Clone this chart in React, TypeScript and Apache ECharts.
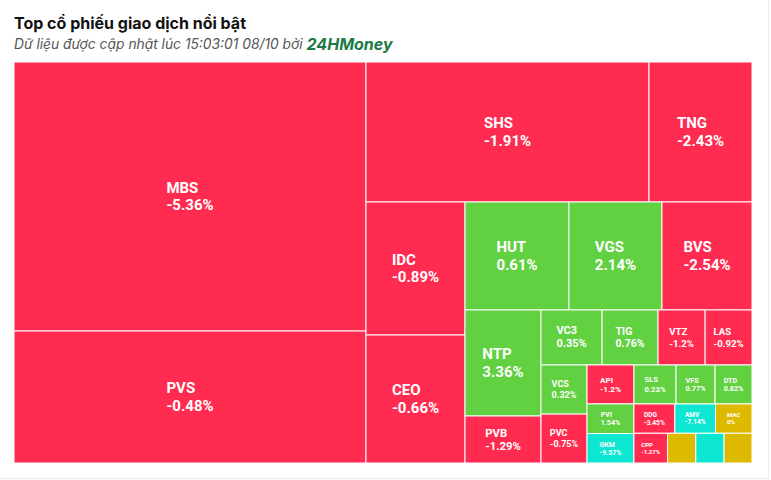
import React, { useEffect, useRef } from 'react';
import * as echarts from 'echarts';

// ---- data ----
const tickers = [
  'MBS', 'PVS', 'SHS', 'TNG', 'IDC', 'CEO', 'HUT', 'VGS', 'BVS', 'NTP',
  'PVB', 'VC3', 'TIG', 'VTZ', 'LAS', 'VCS', 'PVC', 'API', 'SLS', 'VFS',
  'DTD', 'PVI', 'GKM', 'DDG', 'AMV', 'MAC', 'CPP', '', '', '',
];
// relative traded value (cell area)
const tradeValues = [
  94700, 46460, 39620, 14420, 13170, 12670, 11230, 10040, 9720, 8060,
  3570, 3360, 3080, 2590, 2580, 2260, 2250, 1830, 1640, 1520,
  1440, 1390, 1380, 1200, 1190, 1070, 1000, 840, 840, 830,
];
const pctChanges: (number | null)[] = [
  -5.36, -0.48, -1.91, -2.43, -0.89, -0.66, 0.61, 2.14, -2.54, 3.36,
  -1.29, 0.35, 0.76, -1.2, -0.92, 0.32, -0.75, -1.2, 0.23, 0.77,
  0.82, 1.54, -9.57, -3.45, -7.14, 0, -1.27, 0, null, 0,
];
const atFloor = [
  false, false, false, false, false, false, false, false, false, false,
  false, false, false, false, false, false, false, false, false, false,
  false, false, true, false, true, false, false, false, true, false,
];

const TITLE = 'Top cổ phiếu giao dịch nổi bật';
const SUBTITLE = 'Dữ liệu được cập nhật lúc 15:03:01 08/10 bởi ';
const BRAND = '24HMoney';

const COLORS = { up: '#61d142', down: '#ff2b50', ref: '#ddb900', floor: '#0de7d1' };

function cellColor(i: number) {
  if (atFloor[i]) return COLORS.floor;
  const c = pctChanges[i] as number;
  if (c > 0) return COLORS.up;
  if (c === 0) return COLORS.ref;
  return COLORS.down;
}

type R = { x: number; y: number; w: number; h: number };

// alternating-direction squarified layout
function squarify(vals: number[], W: number, H: number): R[] {
  const total = vals.reduce((a, b) => a + b, 0);
  const areas = vals.map((v) => (v / total) * W * H);
  const out: R[] = [];
  let rx = 0, ry = 0, rw = W, rh = H, dir = 0;
  let strip: number[] = [];
  const ar = (a: number, b: number) => Math.max(a / b, b / a);
  const sum = (a: number[]) => a.reduce((p, q) => p + q, 0);
  const flush = () => {
    const s = sum(strip);
    if (dir === 0) {
      const t = s / rh;
      let cy = ry;
      strip.forEach((a) => {
        out.push({ x: rx, y: cy, w: t, h: a / t });
        cy += a / t;
      });
      rx += t;
      rw -= t;
    } else {
      const t = s / rw;
      let cx = rx;
      strip.forEach((a) => {
        out.push({ x: cx, y: ry, w: a / t, h: t });
        cx += a / t;
      });
      ry += t;
      rh -= t;
    }
    dir = 1 - dir;
    strip = [];
  };
  areas.forEach((a) => {
    if (strip.length) {
      const len = dir === 0 ? rh : rw;
      const s0 = sum(strip);
      const prev = strip[strip.length - 1];
      const t0 = s0 / len;
      const t1 = (s0 + a) / len;
      if (ar(t1, prev / t1) > ar(t0, prev / t0)) flush();
    }
    strip.push(a);
  });
  if (strip.length) flush();
  return out;
}

let measureCtx: CanvasRenderingContext2D | null = null;
function textWidth(s: string, font: string) {
  if (!measureCtx) measureCtx = document.createElement('canvas').getContext('2d');
  if (!measureCtx) return s.length * 8;
  measureCtx.font = font;
  return measureCtx.measureText(s).width;
}

export default function App() {
  const ref = useRef<HTMLDivElement>(null);
  useEffect(() => {
    if (!ref.current) return;
    const chart = echarts.init(ref.current, undefined, { renderer: 'svg' });
    let cache: { W: number; H: number; rects: R[] } | null = null;

    const option: any = {
      animation: false,
      backgroundColor: '#ffffff',
      grid: { left: 14, top: 62, width: 738, height: 401 },
      xAxis: { type: 'value', min: 0, max: 1, show: false },
      yAxis: { type: 'value', min: 0, max: 1, inverse: true, show: false },
      graphic: [
        {
          type: 'text',
          x: 14,
          y: 23,
          style: {
            text: TITLE,
            fontFamily: 'Inter',
            fontWeight: 'bold',
            fontSize: 16,
            fill: '#111111',
            verticalAlign: 'middle',
          },
        },
        {
          type: 'text',
          x: 14,
          y: 44,
          style: {
            text: `{a|${SUBTITLE}}{b|${BRAND}}`,
            verticalAlign: 'middle',
            rich: {
              a: { fontFamily: 'Inter', fontStyle: 'italic', fontSize: 13.8, fill: '#555555' },
              b: { fontFamily: 'Inter', fontStyle: 'italic', fontWeight: 'bold', fontSize: 16, fill: '#1c7a45' },
            },
          },
        },
        { type: 'line', shape: { x1: 768.5, y1: 0, x2: 768.5, y2: 479 }, style: { stroke: '#ebebeb', lineWidth: 1 } },
        { type: 'line', shape: { x1: 0, y1: 478.5, x2: 769, y2: 478.5 }, style: { stroke: '#ebebeb', lineWidth: 1 } },
      ],
      series: [
        {
          type: 'custom',
          coordinateSystem: 'cartesian2d',
          clip: false,
          data: tradeValues.map((v, i) => [i, v]),
          renderItem: (params: any, api: any) => {
            const cs = params.coordSys;
            const W = cs.width, H = cs.height;
            if (!cache || cache.W !== W || cache.H !== H) {
              cache = { W, H, rects: squarify(tradeValues, W, H) };
            }
            const i = params.dataIndex;
            const r = cache.rects[i];
            const p0 = api.coord([r.x / W, r.y / H]);
            const p1 = api.coord([(r.x + r.w) / W, (r.y + r.h) / H]);
            const x = Math.min(p0[0], p1[0]);
            const y = Math.min(p0[1], p1[1]);
            const w = Math.abs(p1[0] - p0[0]);
            const h = Math.abs(p1[1] - p0[1]);
            const children: any[] = [
              {
                type: 'rect',
                shape: { x, y, width: w, height: h },
                style: { fill: cellColor(i), stroke: '#ffffff', lineWidth: 1 },
              },
            ];
            if (tickers[i]) {
              const fs = Math.max(6, Math.min(15, 0.19 * Math.sqrt(w * h)));
              const font = `bold ${fs}px Roboto`;
              const l1 = tickers[i];
              const l2 = `${pctChanges[i]}%`;
              const tw = Math.max(textWidth(l1, font), textWidth(l2, font));
              children.push({
                type: 'text',
                x: x + w / 2 - tw / 2,
                y: y + h / 2,
                style: {
                  text: `${l1}\n${l2}`,
                  fill: '#ffffff',
                  fontSize: fs,
                  fontWeight: 'bold',
                  fontFamily: 'Roboto',
                  align: 'left',
                  verticalAlign: 'middle',
                  lineHeight: fs * 1.18,
                },
              });
            }
            return { type: 'group', children };
          },
        },
      ],
    };
    chart.setOption(option);
    return () => chart.dispose();
  }, []);
  return (
    <div
      ref={ref}
      style={{ position: 'absolute', left: 0, top: 0, width: 771, height: 480, background: '#fff' }}
    />
  );
}
